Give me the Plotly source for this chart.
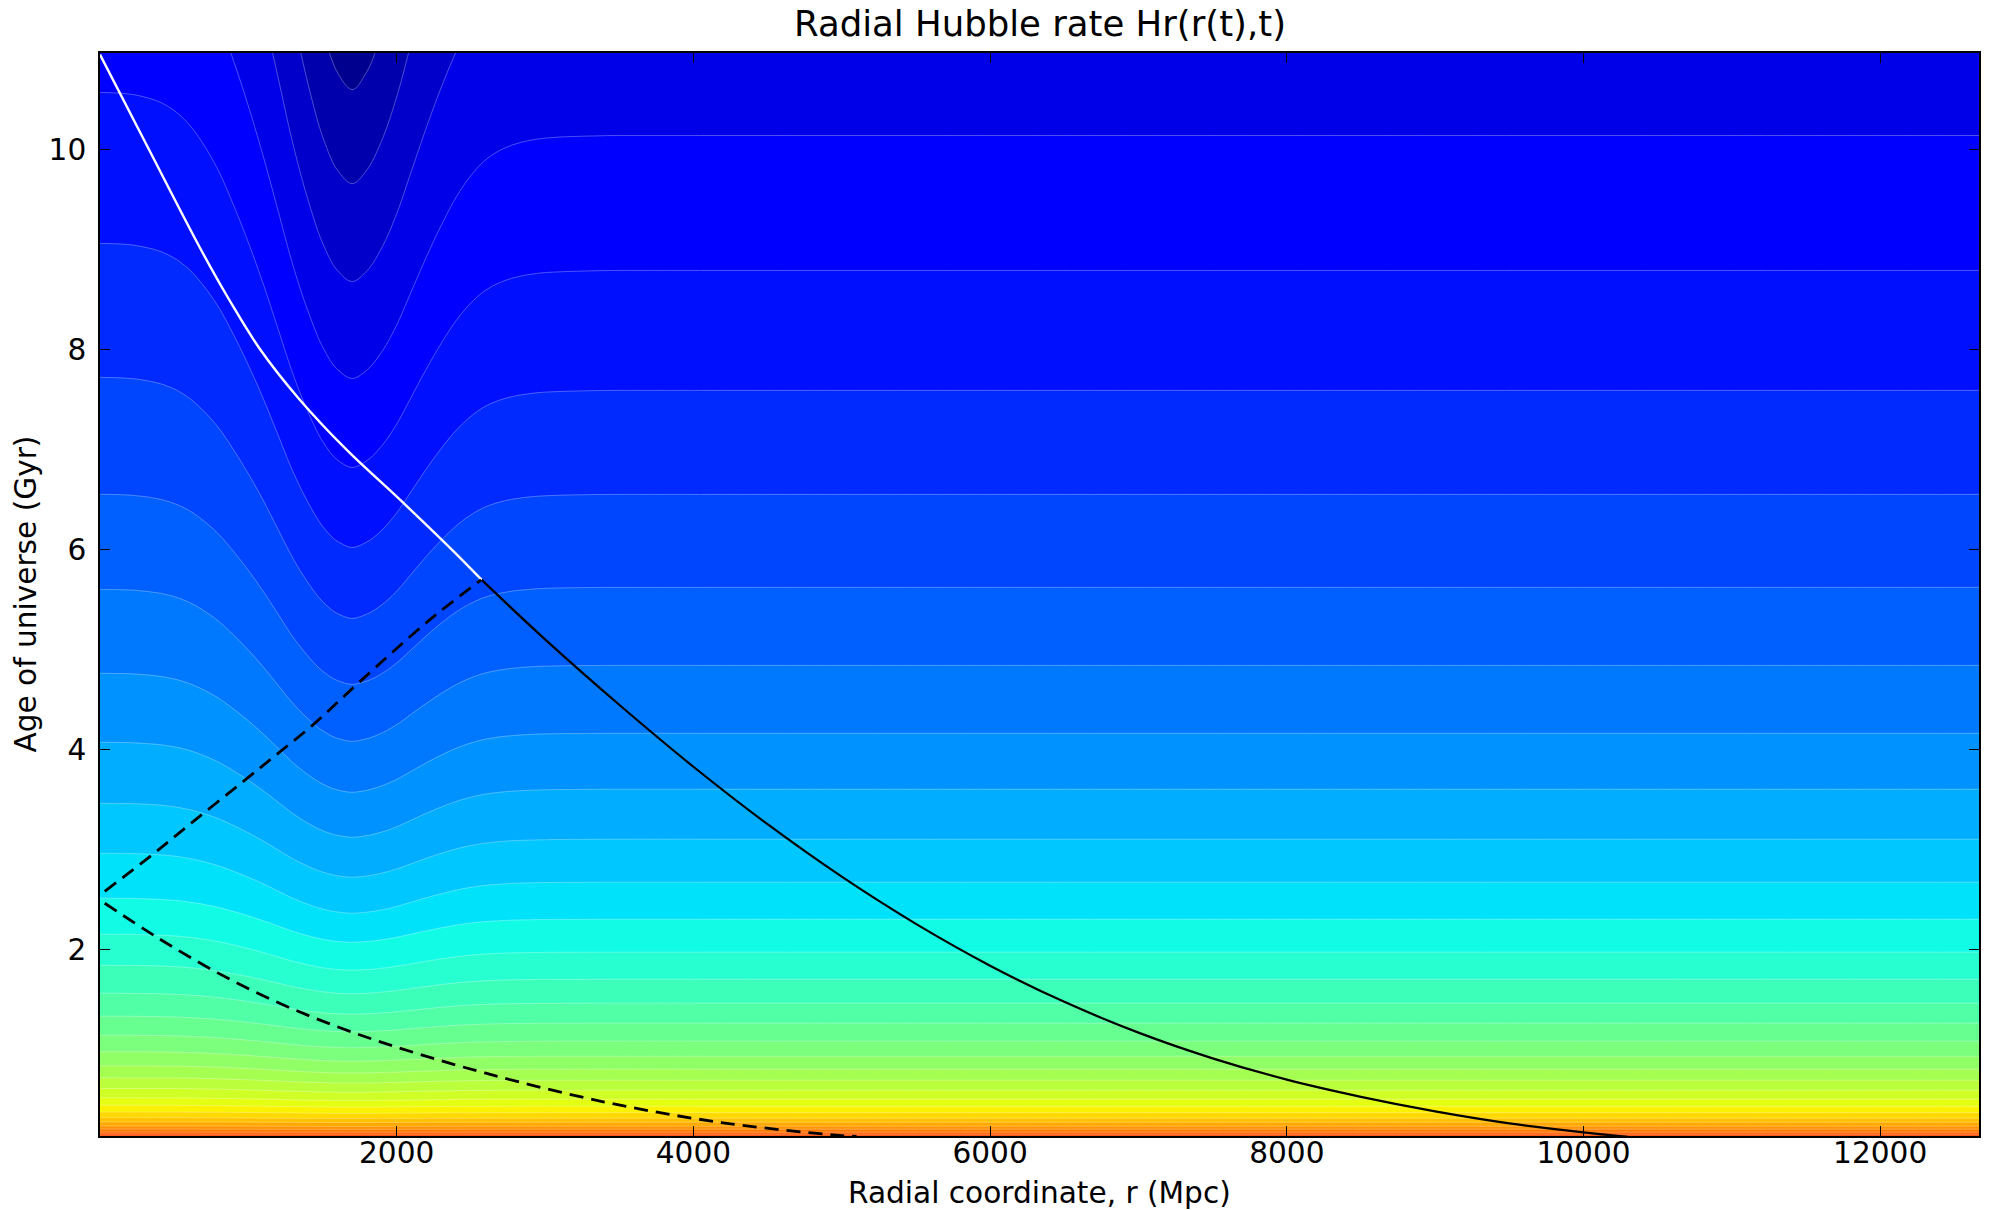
import numpy as np
import plotly.graph_objects as go

# ---------------- data ----------------
# contour levels (index -5 .. 31); for each level: time where the contour
# sits far away (flat part), at the shell (r ~ 1700 Mpc) and at the centre r = 0
level_index = list(range(-5, 32))
level_far_t = [21.3, 18.4, 15.8, 13.6, 11.76, 10.14, 8.79, 7.59, 6.55, 5.62, 4.84,
               4.16, 3.60, 3.10, 2.67, 2.30, 1.97, 1.70, 1.46, 1.26, 1.08, 0.93,
               0.80, 0.69, 0.59, 0.50, 0.43, 0.365, 0.31, 0.27, 0.23, 0.20, 0.17,
               0.15, 0.13, 0.112, 0.097]
level_dip_t = [12.7, 11.6, 10.60, 9.66, 8.68, 7.71, 6.82, 6.02, 5.31, 4.65, 4.08,
               3.57, 3.12, 2.72, 2.36, 2.07, 1.79, 1.555, 1.35, 1.175, 1.015, 0.88,
               0.763, 0.662, 0.57, 0.487, 0.421, 0.359, 0.306, 0.267, 0.228, 0.198,
               0.169, 0.149, 0.129, 0.111, 0.096]
level_centre_t = [26.0, 22.4, 19.2, 16.4, 14.2, 12.25, 10.57, 9.06, 7.72, 6.55, 5.60,
                  4.76, 4.07, 3.46, 2.96, 2.51, 2.15, 1.84, 1.56, 1.33, 1.14, 0.975,
                  0.835, 0.715, 0.608, 0.513, 0.44, 0.372, 0.315, 0.273, 0.232, 0.201,
                  0.171, 0.151, 0.131, 0.113, 0.098]
shell_r = 1700.0
# shape of the contours inside the shell (1 at centre -> 0 at shell)
inner_r = [0, 100, 200, 300, 400, 500, 600, 700, 800, 900, 1000, 1100, 1200, 1300,
           1400, 1500, 1600, 1700]
inner_w = [1.0, 0.999, 0.996, 0.988, 0.975, 0.952, 0.915, 0.86, 0.79, 0.70, 0.60,
           0.49, 0.37, 0.25, 0.15, 0.07, 0.02, 0.0]
# shape outside the shell (1 at shell -> 0 far away)
outer_r = [1700, 1800, 1900, 2000, 2100, 2200, 2300, 2400, 2500, 2600, 2700, 2800,
           2900, 3000, 3200, 3500, 13000]
outer_w = [1, 0.965, 0.89, 0.78, 0.64, 0.50, 0.37, 0.255, 0.165, 0.10, 0.06, 0.035,
           0.02, 0.011, 0.004, 0.0, 0.0]

# light-cone curves
white_r = [0, 330, 680, 870, 1080, 1345, 1660, 2020, 2370, 2573]
white_t = [10.95, 10.0, 9.0, 8.5, 8.0, 7.5, 7.0, 6.5, 6.0, 5.695]
black_r = [2573, 3000, 3500, 4000, 4500, 5000, 5500, 6000, 6500, 7000, 7500, 8000,
           8500, 9000, 9500, 10000, 10300]
black_t = [5.695, 5.10, 4.446, 3.826, 3.251, 2.726, 2.254, 1.836, 1.474, 1.166, 0.909,
           0.696, 0.524, 0.379, 0.259, 0.169, 0.124]
dash1_r = [32, 348, 638, 975, 1200, 1424, 1761, 2210, 2569]
dash1_t = [2.58, 2.94, 3.29, 3.69, 3.96, 4.23, 4.69, 5.28, 5.695]
dash2_r = [32, 400, 800, 1200, 1600, 2000, 2600, 3400, 4200, 5000, 5100]
dash2_t = [2.46, 2.105, 1.759, 1.467, 1.225, 1.021, 0.76, 0.472, 0.264, 0.136, 0.128]

x_ticks = [2000, 4000, 6000, 8000, 10000, 12000]
x_tick_text = ["2000", "4000", "6000", "8000", "10000", "12000"]
y_ticks = [2, 4, 6, 8, 10]


# ---------------- helpers ----------------
def pchip(xn, yn, x):
    xn = np.asarray(xn, float)
    yn = np.asarray(yn, float)
    x = np.asarray(x, float)
    h = np.diff(xn)
    dl = np.diff(yn) / h
    n = len(xn)
    m = np.zeros(n)
    for i in range(1, n - 1):
        if dl[i - 1] * dl[i] > 0:
            w1 = 2 * h[i] + h[i - 1]
            w2 = h[i] + 2 * h[i - 1]
            m[i] = (w1 + w2) / (w1 / dl[i - 1] + w2 / dl[i])
    idx = np.clip(np.searchsorted(xn, x) - 1, 0, n - 2)
    s = (x - xn[idx]) / h[idx]
    h00 = 2 * s**3 - 3 * s**2 + 1
    h10 = s**3 - 2 * s**2 + s
    h01 = -2 * s**3 + 3 * s**2
    h11 = s**3 - s**2
    return h00 * yn[idx] + h10 * h[idx] * m[idx] + h01 * yn[idx + 1] + h11 * h[idx] * m[idx + 1]


def jet(x):
    r = np.interp(x, [0, 0.35, 0.66, 0.89, 1], [0, 0, 1, 1, 0.5])
    g = np.interp(x, [0, 0.125, 0.375, 0.64, 0.91, 1], [0, 0, 1, 1, 0, 0])
    b = np.interp(x, [0, 0.11, 0.34, 0.65, 1], [0.5, 1, 1, 0, 0])
    return "rgb(%d,%d,%d)" % (round(r * 255), round(g * 255), round(b * 255))


# ---------------- field ----------------
far = np.array(level_far_t)
dip = np.array(level_dip_t)
cen = np.array(level_centre_t)
lev = np.array(level_index, float)

r_grid = np.concatenate([np.linspace(0, 4000, 401), np.linspace(4050, 12700, 60)])
t_grid = np.unique(np.concatenate([np.linspace(0.12, 11.05, 420),
                                   np.geomspace(0.12, 2.5, 260)]))
w_in = pchip(inner_r, inner_w, np.minimum(r_grid, shell_r))
w_out = pchip(outer_r, outer_w, np.clip(r_grid, shell_r, 13000))

z = np.empty((len(t_grid), len(r_grid)))
for j, r in enumerate(r_grid):
    if r <= shell_r:
        tk = dip + (cen - dip) * w_in[j]
    else:
        tk = dip + (far - dip) * (1 - w_out[j])
    z[:, j] = np.interp(t_grid, tk[::-1], lev[::-1])

n_lev = 39
cstart = -4
cscale = [[p, jet(min(max(p - 0.5 / n_lev, 0), 1))] for p in np.linspace(0, 1, 161)]

FONT = "DejaVu Sans"
fig = go.Figure()
fig.add_trace(go.Contour(
    x=r_grid, y=t_grid, z=z,
    autocontour=False,
    contours=dict(start=cstart, end=cstart + n_lev - 1, size=1,
                  coloring="fill", showlines=True),
    line=dict(color="rgba(255,255,255,0.45)", width=0.7, smoothing=0),
    colorscale=cscale, showscale=False, hoverinfo="skip",
))
fig.add_trace(go.Scatter(x=white_r, y=white_t, mode="lines",
                         line=dict(color="white", width=2.4, shape="spline", smoothing=1.0),
                         showlegend=False, hoverinfo="skip"))
fig.add_trace(go.Scatter(x=black_r, y=black_t, mode="lines",
                         line=dict(color="black", width=2.2, shape="spline", smoothing=1.0),
                         showlegend=False, hoverinfo="skip"))
fig.add_trace(go.Scatter(x=dash1_r, y=dash1_t, mode="lines",
                         line=dict(color="black", width=2.8, dash="14px,8px", shape="spline"),
                         showlegend=False, hoverinfo="skip"))
fig.add_trace(go.Scatter(x=dash2_r, y=dash2_t, mode="lines",
                         line=dict(color="black", width=2.8, dash="14px,8px", shape="spline"),
                         showlegend=False, hoverinfo="skip"))

axis_common = dict(ticks="inside", ticklen=10, tickwidth=1.3, tickcolor="black",
                   showline=True, linecolor="black", linewidth=1.6, mirror="ticks",
                   showgrid=False, zeroline=False,
                   tickfont=dict(family=FONT, size=29.6, color="black"))
fig.update_layout(
    width=1990, height=1210,
    margin=dict(l=100, r=9, t=53, b=74),
    paper_bgcolor="white", plot_bgcolor="white",
    xaxis=dict(range=[0, 12666], tickvals=x_ticks, ticktext=x_tick_text,
               ticklabelstandoff=-10, **axis_common),
    yaxis=dict(range=[0.132, 10.966], tickvals=y_ticks, ticklabelstandoff=6, **axis_common),
    showlegend=False,
    annotations=[
        dict(text="Radial Hubble rate Hr(r(t),t)", xref="paper", yref="paper",
             x=0.5, y=1 + 30 / 1083, xanchor="center", yanchor="middle",
             showarrow=False, font=dict(family=FONT, size=35.5, color="black")),
        dict(text="Radial coordinate, r (Mpc)", xref="paper", yref="paper",
             x=0.5, y=-57 / 1083, xanchor="center", yanchor="middle",
             showarrow=False, font=dict(family=FONT, size=29.6, color="black")),
        dict(text="Age of universe (Gyr)", xref="paper", yref="paper",
             x=-75 / 1881, y=0.5, xanchor="center", yanchor="middle", textangle=-90,
             showarrow=False, font=dict(family=FONT, size=29.6, color="black")),
    ],
)
fig.write_html("out.html")
